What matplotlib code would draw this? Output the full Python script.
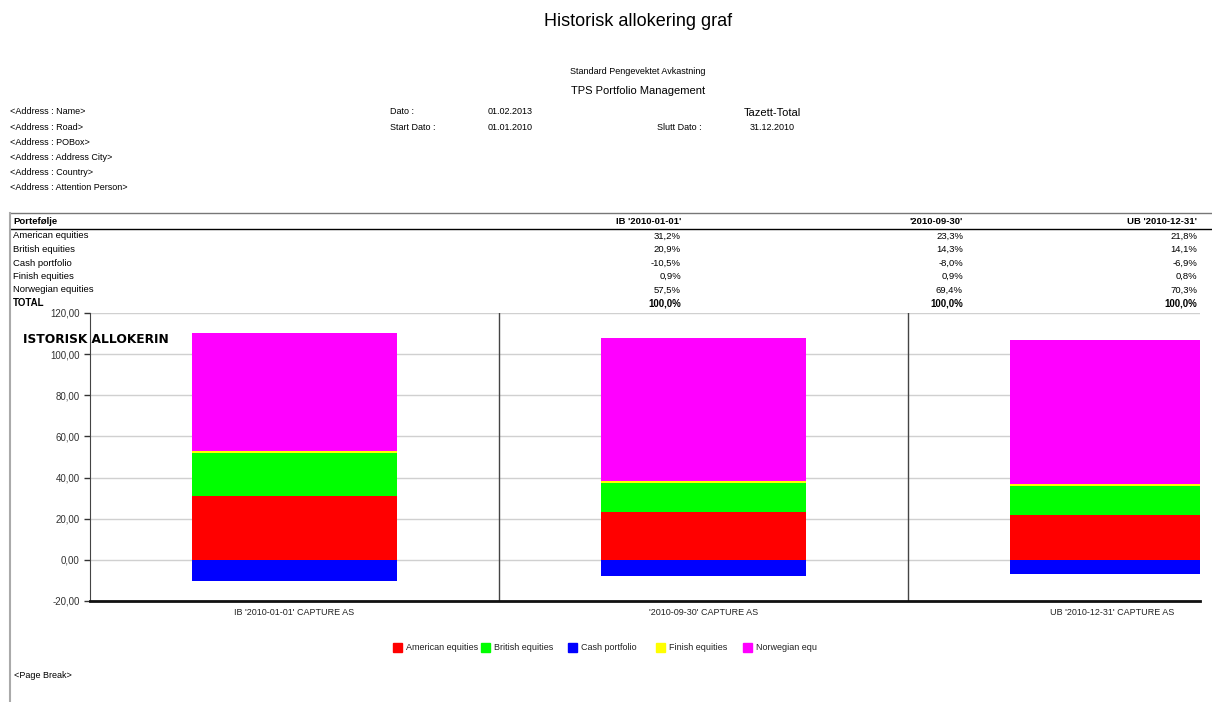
import numpy as np
import matplotlib; matplotlib.use("Agg")
import matplotlib.pyplot as plt
from matplotlib.patches import Rectangle
from matplotlib.lines import Line2D
from matplotlib.ticker import FuncFormatter

plt.rcParams["font.family"] = ["Liberation Sans", "DejaVu Sans"]

W, H = 1212, 702

periods = ["IB '2010-01-01'", "'2010-09-30'", "UB '2010-12-31'"]
bar_labels = ["IB '2010-01-01' CAPTURE AS", "'2010-09-30' CAPTURE AS", "UB '2010-12-31' CAPTURE AS"]
series = ["American equities", "British equities", "Cash portfolio", "Finish equities", "Norwegian equities"]
legend_names = ["American equities", "British equities", "Cash portfolio", "Finish equities", "Norwegian equ"]
colors = ["#ff0000", "#00ff00", "#0000ff", "#ffff00", "#ff00ff"]
american = [31.2, 23.3, 21.8]
british = [20.9, 14.3, 14.1]
cash = [-10.5, -8.0, -6.9]
finish = [0.9, 0.9, 0.8]
norwegian = [57.5, 69.4, 70.3]
totals = [100.0, 100.0, 100.0]
address_lines = ["<Address : Name>", "<Address : Road>", "<Address : POBox>",
                 "<Address : Address City>", "<Address : Country>", "<Address : Attention Person>"]


def fx(x): return x / W
def fy(y): return 1 - y / H
def pct(v): return f"{v:.1f}%".replace(".", ",")


fig = plt.figure(figsize=(W / 100, H / 100), dpi=100)

# header
fig.text(fx(638), fy(21), "Historisk allokering graf", ha="center", va="center", fontsize=13)
fig.text(fx(638), fy(71), "Standard Pengevektet Avkastning", ha="center", va="center", fontsize=6.5)
fig.text(fx(638), fy(91), "TPS Portfolio Management", ha="center", va="center", fontsize=8)
for i, s in enumerate(address_lines):
    fig.text(fx(10), fy(112 + 15.2 * i), s, ha="left", va="center", fontsize=6.5)
fig.text(fx(390), fy(112), "Dato :", va="center", fontsize=6.5)
fig.text(fx(488), fy(112), "01.02.2013", va="center", fontsize=6.5)
fig.text(fx(390), fy(127), "Start Dato :", va="center", fontsize=6.5)
fig.text(fx(488), fy(127), "01.01.2010", va="center", fontsize=6.5)
fig.text(fx(772), fy(113), "Tazett-Total", ha="center", va="center", fontsize=8)
fig.text(fx(657), fy(127), "Slutt Dato :", va="center", fontsize=6.5)
fig.text(fx(772), fy(127), "31.12.2010", ha="center", va="center", fontsize=6.5)

# table
fig.add_artist(Line2D([fx(10), fx(1212)], [fy(213), fy(213)], color="#777777", lw=1))
fig.add_artist(Line2D([fx(10), fx(1212)], [fy(229), fy(229)], color="#000000", lw=1))
fig.add_artist(Line2D([fx(10), fx(10)], [fy(213), fy(702)], color="#aaaaaa", lw=1.5))
col_x = [681, 963, 1197]
fig.text(fx(13), fy(221), "Portefølje", va="center", fontsize=6.8, fontweight="bold")
for x, p in zip(col_x, periods):
    fig.text(fx(x), fy(221), p, ha="right", va="center", fontsize=6.8, fontweight="bold")
rows = [american, british, cash, finish, norwegian]
for r, (name, vals) in enumerate(zip(series, rows)):
    y = 236 + 13.5 * r
    fig.text(fx(13), fy(y), name, va="center", fontsize=6.8)
    for x, v in zip(col_x, vals):
        fig.text(fx(x), fy(y), pct(v), ha="right", va="center", fontsize=6.8)
fig.text(fx(13), fy(303), "TOTAL", va="center", fontsize=7, fontweight="bold")
for x, v in zip(col_x, totals):
    fig.text(fx(x), fy(303), pct(v), ha="right", va="center", fontsize=7, fontweight="bold")

# chart
ax = fig.add_axes([fx(90), fy(601), fx(1200) - fx(90), fy(313) - fy(601)])
xs = np.arange(len(periods))
wbar = 0.5
bottom = np.zeros(len(periods))
for vals, c in [(american, colors[0]), (british, colors[1]), (finish, colors[3]), (norwegian, colors[4])]:
    ax.bar(xs, vals, wbar, bottom=bottom, color=c, edgecolor="none", zorder=3)
    bottom += np.array(vals)
ax.bar(xs, cash, wbar, color=colors[2], edgecolor="none", zorder=3)

ax.set_ylim(-20, 120)
ax.set_xlim(-0.5, 2.214)
ax.set_yticks(np.arange(-20, 121, 20))
ax.yaxis.set_major_formatter(FuncFormatter(lambda v, _: f"{v:.2f}".replace(".", ",")))
ax.tick_params(axis="y", labelsize=7, colors="#333333", length=4, width=1)
ax.set_xticks([])
ax.grid(axis="y", color="#d0d0d0", lw=1, zorder=0)
for xv in [0.5, 1.5]:
    ax.axvline(xv, color="#444444", lw=1, zorder=2)
for s in ["top", "right"]:
    ax.spines[s].set_visible(False)
ax.spines["left"].set_color("#444444")
ax.spines["bottom"].set_linewidth(2)
ax.spines["bottom"].set_color("#111111")
for x, lab in zip(xs, bar_labels):
    ax.text(x, -23.5, lab, ha="center", va="top", fontsize=6.5, color="#222222")

fig.text(fx(23), fy(339), "ISTORISK ALLOKERIN", va="center", fontsize=8.8, fontweight="bold",
         family=["DejaVu Sans"])

# legend
leg_x = [393, 481, 568, 656, 743]
for x, name, c in zip(leg_x, legend_names, colors):
    fig.add_artist(Rectangle((fx(x), fy(652)), 9 / W, 9 / H, color=c))
    fig.text(fx(x + 13), fy(647), name, va="center", fontsize=6.5, color="#222222")

fig.text(fx(14), fy(676), "<Page Break>", va="center", fontsize=6.5)

fig.savefig("out.png", dpi=100)
